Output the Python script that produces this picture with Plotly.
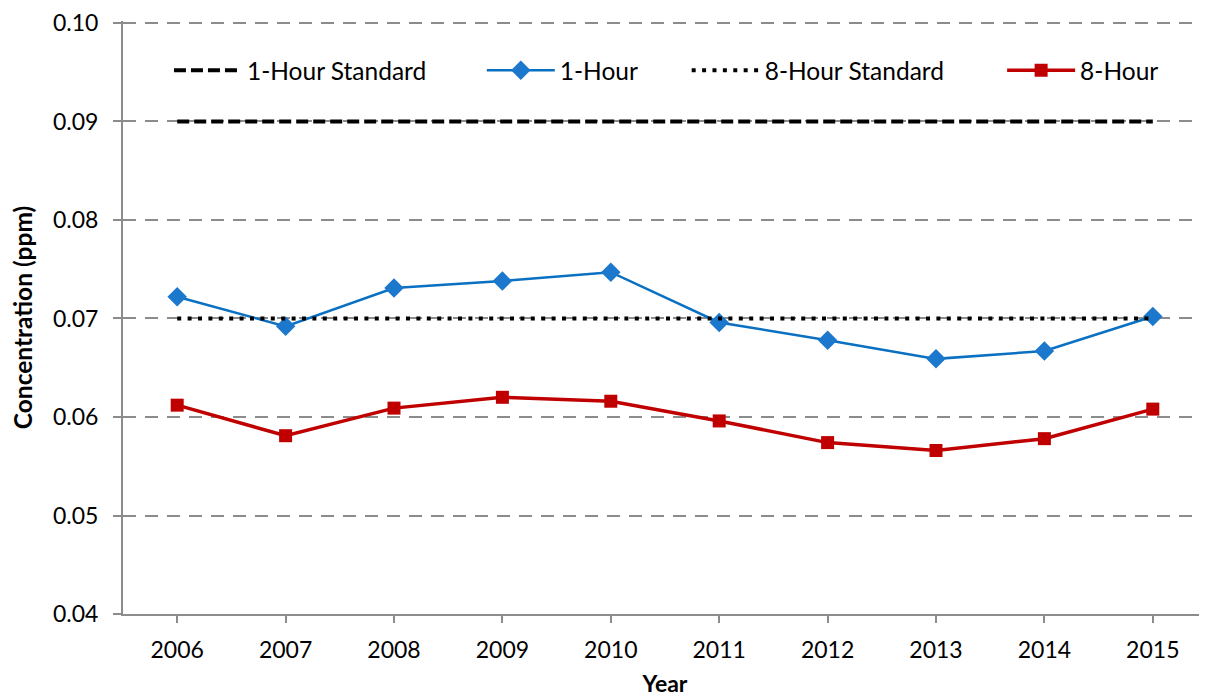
import plotly.graph_objects as go

years = ["2006", "2007", "2008", "2009", "2010", "2011", "2012", "2013", "2014", "2015"]
one_hour = [0.0722, 0.0692, 0.0731, 0.0738, 0.0747, 0.0696, 0.0678, 0.0659, 0.0667, 0.0702]
eight_hour = [0.0612, 0.0581, 0.0609, 0.0620, 0.0616, 0.0596, 0.0574, 0.0566, 0.0578, 0.0608]
one_hour_std = [0.09] * len(years)
eight_hour_std = [0.07] * len(years)
y_ticks = [0.04, 0.05, 0.06, 0.07, 0.08, 0.09, 0.10]
y_tick_labels = ["0.04", "0.05", "0.06", "0.07", "0.08", "0.09", "0.10"]

FONT = "Lato"

fig = go.Figure()
fig.add_trace(go.Scatter(
    x=years, y=one_hour_std, name="1-Hour Standard", mode="lines",
    line=dict(color="black", width=4, dash="12px,5px"), legend="legend",
))
fig.add_trace(go.Scatter(
    x=years, y=one_hour, name="1-Hour", mode="lines+markers",
    line=dict(color="#0A70C2", width=2.5),
    marker=dict(symbol="diamond", size=15, color="#1C78CC"), legend="legend2",
))
fig.add_trace(go.Scatter(
    x=years, y=eight_hour_std, name="8-Hour Standard", mode="lines",
    line=dict(color="black", width=4, dash="4px,6.4px"), legend="legend3",
))
fig.add_trace(go.Scatter(
    x=years, y=eight_hour, name="8-Hour", mode="lines+markers",
    line=dict(color="#C00000", width=3.5),
    marker=dict(symbol="square", size=13, color="#C00000"), legend="legend4",
))

def leg(x):
    return dict(
        orientation="h", x=x, y=0.917, xanchor="left", yanchor="middle",
        font=dict(family=FONT, size=24.5, color="black"),
        bgcolor="rgba(0,0,0,0)", itemwidth=68,
    )

fig.update_layout(
    width=1199, height=690,
    margin=dict(l=115, r=0, t=8, b=84),
    paper_bgcolor="white", plot_bgcolor="white",
    font=dict(family=FONT, size=23, color="black"),
    showlegend=True,
    legend=leg(0.0424),
    legend2=leg(0.331),
    legend3=leg(0.520),
    legend4=leg(0.811),
    xaxis=dict(
        type="category", showgrid=False,
        showline=True, linecolor="#8C8C8C", linewidth=2,
        ticks="outside", ticklen=7, tickcolor="#8C8C8C", tickwidth=2,
        tickfont=dict(family=FONT, size=23), ticklabelstandoff=7,
        title=dict(text="<b>Year</b>", font=dict(family=FONT, size=23), standoff=14),
        range=[-0.5, 9.5], fixedrange=True,
    ),
    yaxis=dict(
        range=[0.04, 0.1002], tickvals=y_ticks, ticktext=y_tick_labels,
        showgrid=True, gridcolor="#8C8C8C", gridwidth=2, griddash="13px,9px",
        showline=True, linecolor="#8C8C8C", linewidth=2,
        ticks="outside", ticklen=8, tickcolor="#8C8C8C", tickwidth=2,
        tickfont=dict(family=FONT, size=23), ticklabelstandoff=10,
        ticklabeloverflow="allow",
        title=dict(text="<b>Concentration (ppm)</b>", font=dict(family=FONT, size=24.5), standoff=17),
        zeroline=False,
    ),
)

fig.write_html("out.html")
